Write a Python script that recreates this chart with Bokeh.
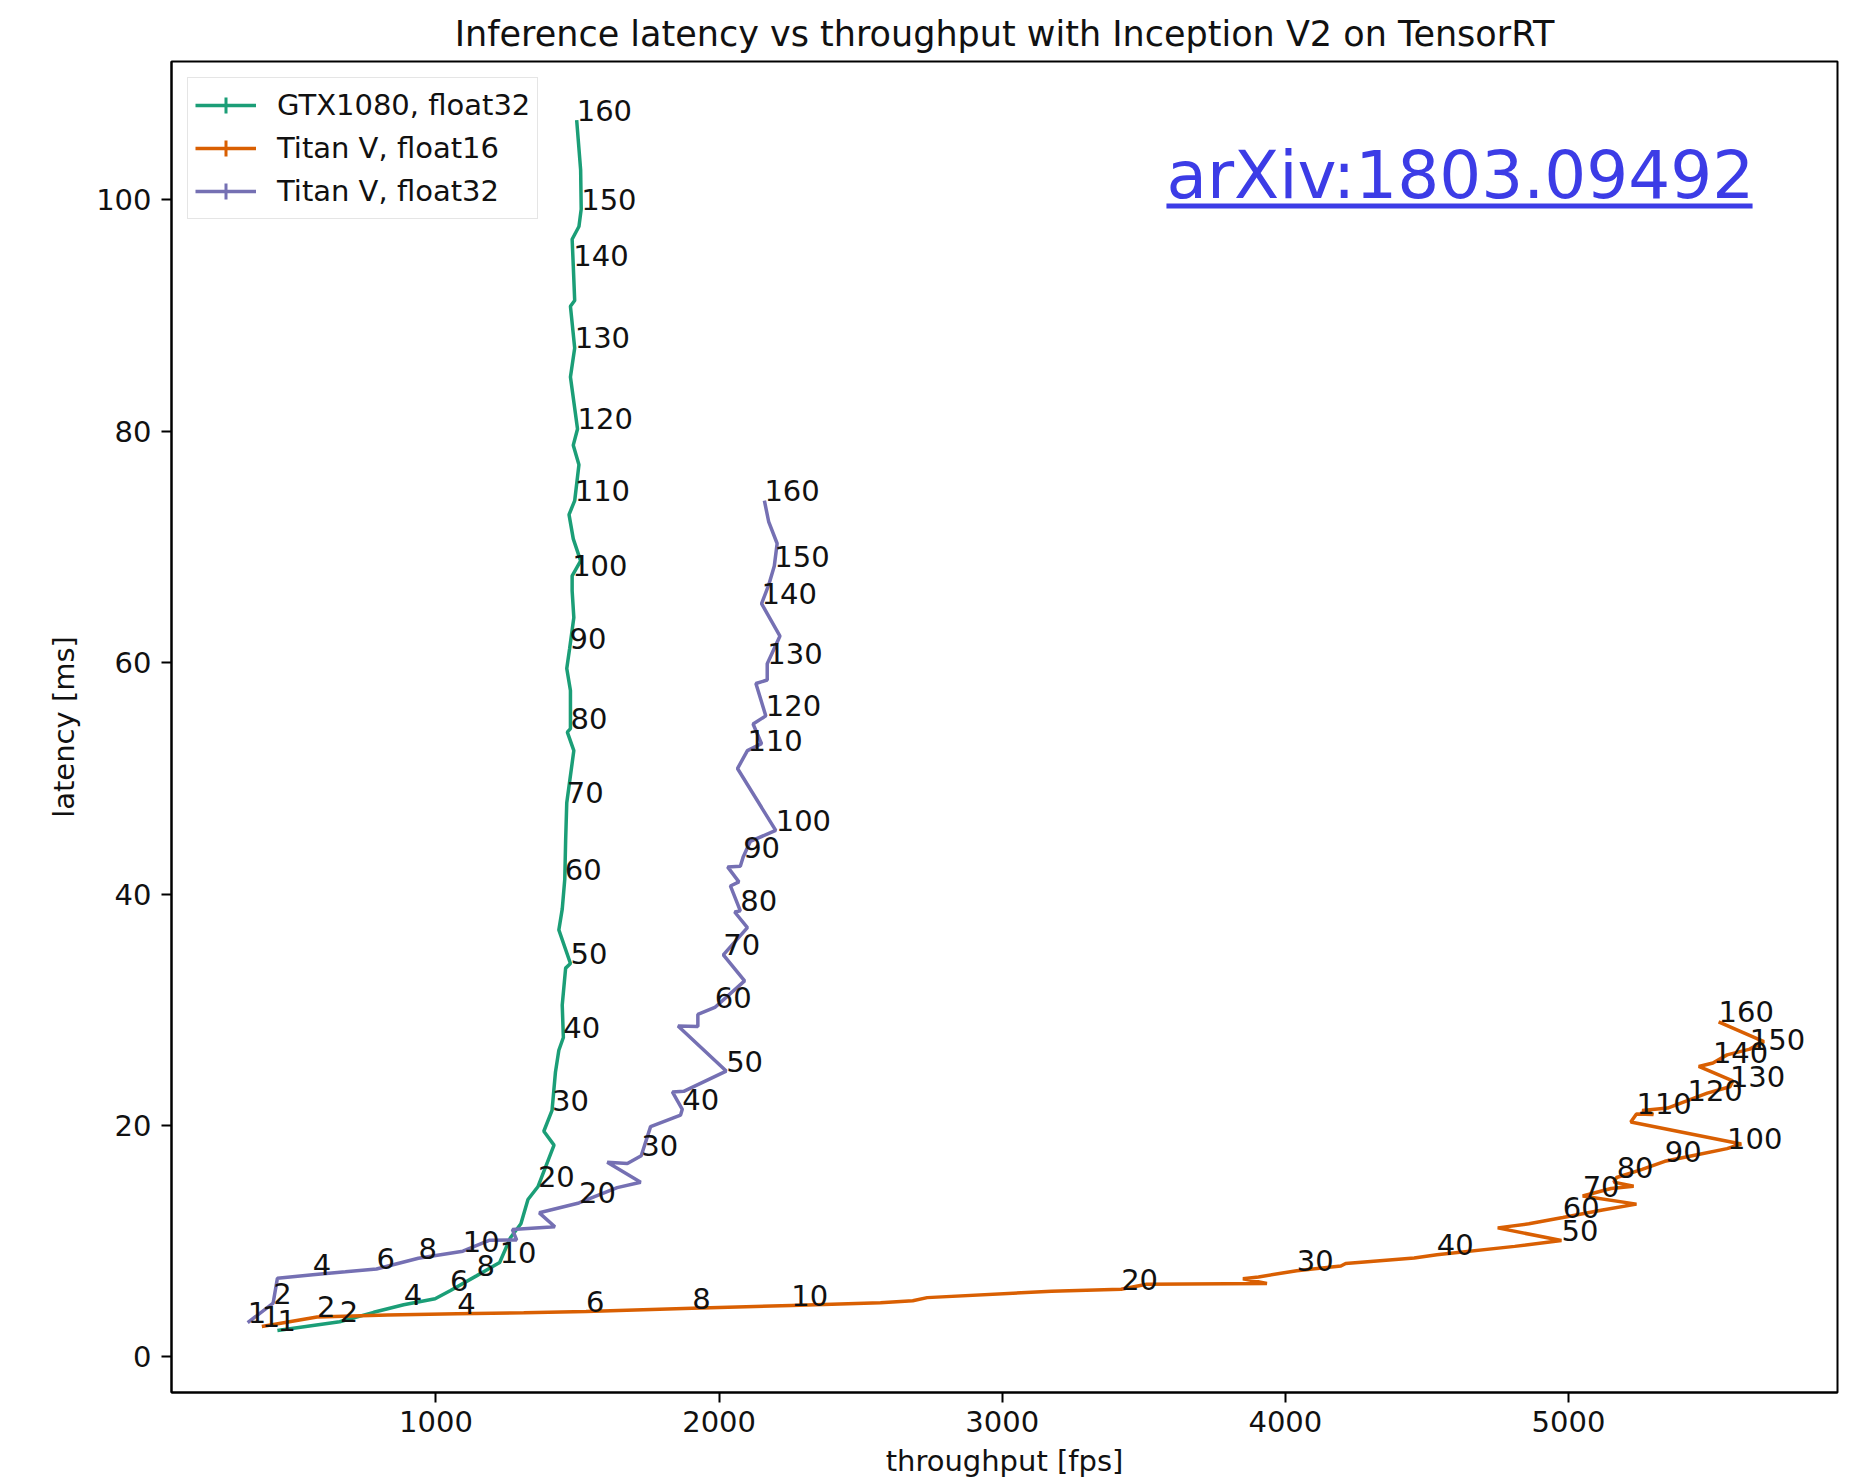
from bokeh.plotting import figure
from bokeh.models import (Range1d, FixedTicker, Legend, LegendItem,
                          BoxAnnotation, ColumnDataSource)
from bokeh.core.properties import value
from bokeh.embed import file_html
from bokeh.resources import INLINE

# ---------------- data ----------------
LABEL_BATCHES = [1, 2, 4, 6, 8, 10, 20, 30, 40, 50, 60, 70, 80, 90,
                 100, 110, 120, 130, 140, 150, 160]
X_TICKS = [1000, 2000, 3000, 4000, 5000]
Y_TICKS = [0, 20, 40, 60, 80, 100]

# GTX1080, float32
gtx_batch = [1, 2, 3, 4, 5, 6, 8, 10, 13, 15, 18, 20, 26, 27, 30, 35, 38, 40,
             44, 49, 50, 53, 56, 60, 65, 70, 78, 79, 80, 85, 87, 90, 95, 98,
             100, 104, 105, 107, 110, 116, 117, 120, 125, 130, 134, 136, 140,
             143, 147, 150, 155, 160]
gtx_fps = [440, 660, 780, 886, 997, 1050, 1143, 1225, 1263, 1300, 1325, 1360,
           1417, 1381, 1410, 1422, 1434, 1450, 1446, 1458, 1475, 1434, 1446,
           1455, 1458, 1462, 1487, 1464, 1475, 1475, 1462, 1472, 1487, 1481,
           1481, 1511, 1485, 1470, 1490, 1505, 1485, 1500, 1475, 1490, 1475,
           1490, 1485, 1481, 1505, 1513, 1511, 1497]
gtx_lat = [2.27, 3.03, 3.85, 4.5, 5.02, 5.72, 7.0, 8.16, 10.3, 11.5, 13.6,
           14.7, 18.3, 19.5, 21.3, 24.6, 26.5, 27.6, 30.4, 33.6, 34.0, 36.9,
           38.7, 41.3, 44.6, 47.9, 52.4, 54.0, 54.3, 57.6, 59.5, 61.2, 63.9,
           66.2, 67.5, 68.8, 70.7, 72.8, 74.0, 77.1, 78.8, 80.2, 84.7, 87.2,
           90.8, 91.3, 94.3, 96.6, 97.7, 99.2, 102.6, 106.9]

# Titan V, float16
tv16_batch = [1, 2, 3, 4, 5, 6, 8, 10, 12, 13, 14, 18, 20, 22, 25, 26, 27, 30,
              33, 34, 38, 40, 46, 50, 53, 56, 60, 65, 69, 70, 75, 77, 78, 80,
              85, 90, 95, 100, 103, 106, 110, 111, 112, 115, 120, 125, 130,
              133, 137, 140, 145, 150, 155, 160]
tv16_fps = [385, 580, 830, 1075, 1310, 1530, 1905, 2255, 2570, 2684, 2735,
            3174, 3420, 3510, 3935, 3850, 3905, 4040, 4196, 4213, 4455, 4535,
            4810, 4975, 4750, 4860, 4980, 5120, 5240, 5050, 5150, 5230, 5160,
            5170, 5260, 5340, 5450, 5560, 5610, 5220, 5240, 5300, 5260, 5350,
            5420, 5490, 5570, 5580, 5460, 5510, 5560, 5640, 5690, 5530]
tv16_lat = [2.62, 3.45, 3.61, 3.72, 3.82, 3.92, 4.2, 4.44, 4.67, 4.85, 5.12,
            5.67, 5.85, 6.27, 6.35, 6.75, 6.91, 7.45, 7.85, 8.07, 8.55, 8.82,
            9.55, 10.05, 11.15, 11.5, 12.05, 12.7, 13.2, 13.9, 14.55, 14.75,
            15.1, 15.5, 16.2, 16.9, 17.45, 18.0, 18.4, 20.3, 21.0, 20.95, 21.3,
            21.5, 22.15, 22.8, 23.35, 23.85, 25.1, 25.4, 26.1, 26.6, 27.25,
            28.95]

# Titan V, float32
tv32_batch = [1, 2, 3, 4, 5, 6, 8, 10, 12, 13, 14, 16, 17, 20, 24, 26, 27, 28,
              30, 35, 39, 40, 42, 43, 50, 53, 55, 57, 60, 68, 70, 78, 79, 80,
              83, 85, 86, 88, 90, 94, 100, 105, 110, 114, 116, 120, 124, 127,
              130, 138, 140, 145, 150, 155, 157, 160]
tv32_fps = [335, 425, 440, 565, 680, 790, 938, 1095, 1190, 1285, 1270, 1420,
            1365, 1505, 1640, 1723, 1605, 1676, 1725, 1758, 1864, 1870, 1835,
            1875, 2025, 1855, 1925, 1925, 1985, 2090, 2015, 2100, 2055, 2075,
            2040, 2070, 2030, 2075, 2085, 2110, 2200, 2065, 2100, 2150, 2120,
            2165, 2130, 2170, 2170, 2215, 2150, 2175, 2195, 2205, 2175, 2160]
tv32_lat = [2.95, 4.65, 6.8, 7.1, 7.35, 7.6, 8.52, 9.13, 10.08, 10.1, 11.0,
            11.25, 12.45, 13.3, 14.63, 15.09, 16.82, 16.71, 17.39, 19.9, 20.9,
            21.4, 22.9, 22.95, 24.7, 28.6, 28.55, 29.6, 30.2, 32.5, 34.75,
            37.1, 38.45, 38.55, 40.7, 41.05, 42.35, 42.4, 43.2, 44.55, 45.5,
            50.85, 52.4, 53.0, 54.7, 55.4, 58.2, 58.5, 59.9, 62.3, 65.1, 66.7,
            68.35, 70.3, 72.2, 74.0]

SERIES_NAMES = ["GTX1080, float32", "Titan V, float16", "Titan V, float32"]
SERIES_COLORS = ["#1b9e77", "#d95f02", "#7570b3"]

WATERMARK = "arXiv:1803.09492"

# ---------------- figure ----------------
FONT = "DejaVu Sans"
TXT = "#111111"

p = figure(width=1842, height=1481,
           x_range=Range1d(66, 5950), y_range=Range1d(-3.08, 111.96),
           output_backend="svg", toolbar_location=None,
           min_border_left=171, min_border_right=5,
           min_border_top=61, min_border_bottom=89,
           title="Inference latency vs throughput with Inception V2 on TensorRT",
           x_axis_label="throughput [fps]", y_axis_label="latency [ms]")
p.background_fill_color = "white"
p.border_fill_color = "white"
p.title.text_font = FONT
p.title.text_font_size = "35px"
p.title.text_font_style = "normal"
p.title.align = "center"
p.title.text_color = TXT
p.title.standoff = 15
p.grid.visible = False
p.outline_line_color = "#000000"
p.outline_line_width = 2

for ax in (p.xaxis[0], p.yaxis[0]):
    ax.axis_label_text_font = FONT
    ax.axis_label_text_font_size = "29px"
    ax.axis_label_text_font_style = "normal"
    ax.axis_label_text_color = TXT
    ax.major_label_text_font = FONT
    ax.major_label_text_font_size = "29px"
    ax.major_label_text_color = TXT
    ax.major_tick_out = 10
    ax.major_tick_in = 0
    ax.major_tick_line_width = 2
    ax.major_tick_line_color = "#000000"
    ax.minor_tick_line_color = None
    ax.axis_line_width = 2
    ax.axis_line_color = "#000000"

p.xaxis.ticker = FixedTicker(ticks=X_TICKS)
p.yaxis.ticker = FixedTicker(ticks=Y_TICKS)
p.xaxis.major_label_standoff = 8
p.xaxis.axis_label_standoff = 9
p.yaxis.major_label_standoff = 10
p.yaxis.axis_label_standoff = 12

series = [
    (SERIES_NAMES[0], SERIES_COLORS[0], gtx_batch, gtx_fps, gtx_lat),
    (SERIES_NAMES[1], SERIES_COLORS[1], tv16_batch, tv16_fps, tv16_lat),
    (SERIES_NAMES[2], SERIES_COLORS[2], tv32_batch, tv32_fps, tv32_lat),
]

items = []
for name, color, b, x, y in series:
    src = ColumnDataSource(dict(x=x, y=y))
    r = p.line("x", "y", source=src, line_color=color, line_width=3.5)
    # zero-size marker: only visible as the "+" in the legend entry
    c = p.scatter(x=x[:1], y=y[:1], marker="cross", size=0,
                  line_color=color, line_width=3)
    items.append(LegendItem(label=name, renderers=[r, c]))

for name, color, b, x, y in series:
    idx = [i for i, bb in enumerate(b) if bb in LABEL_BATCHES]
    lsrc = ColumnDataSource(dict(x=[x[i] for i in idx],
                                 y=[y[i] for i in idx],
                                 t=[str(b[i]) for i in idx]))
    p.text("x", "y", text="t", source=lsrc, text_font=value(FONT),
           text_font_size="29px", text_align="left",
           text_baseline="alphabetic", y_offset=-10, text_color=TXT)

legend = Legend(items=items, location="top_left", margin=16,
                label_text_font=FONT, label_text_font_size="29px",
                label_text_color=TXT,
                glyph_width=61, glyph_height=40, label_height=40,
                label_standoff=21, spacing=3, padding=7,
                border_line_color="#cccccc", border_line_width=1.5,
                background_fill_alpha=0.8)
p.add_layout(legend)

# watermark text (blue, underlined) in the upper right of the plot area
wm_src = ColumnDataSource(dict(x=[3580], y=[100.13], t=[WATERMARK]))
p.text("x", "y", text="t", source=wm_src, text_font=value(FONT),
       text_font_size="66px", text_color="#3c3ce6",
       text_baseline="alphabetic", y_offset=-23, text_align="left")
underline = BoxAnnotation(left=3580, right=5650, bottom=99.26, top=99.69,
                          fill_color="#3c3ce6", fill_alpha=1.0,
                          line_color=None)
p.add_layout(underline)

open("out.html", "w").write(file_html(p, INLINE))
